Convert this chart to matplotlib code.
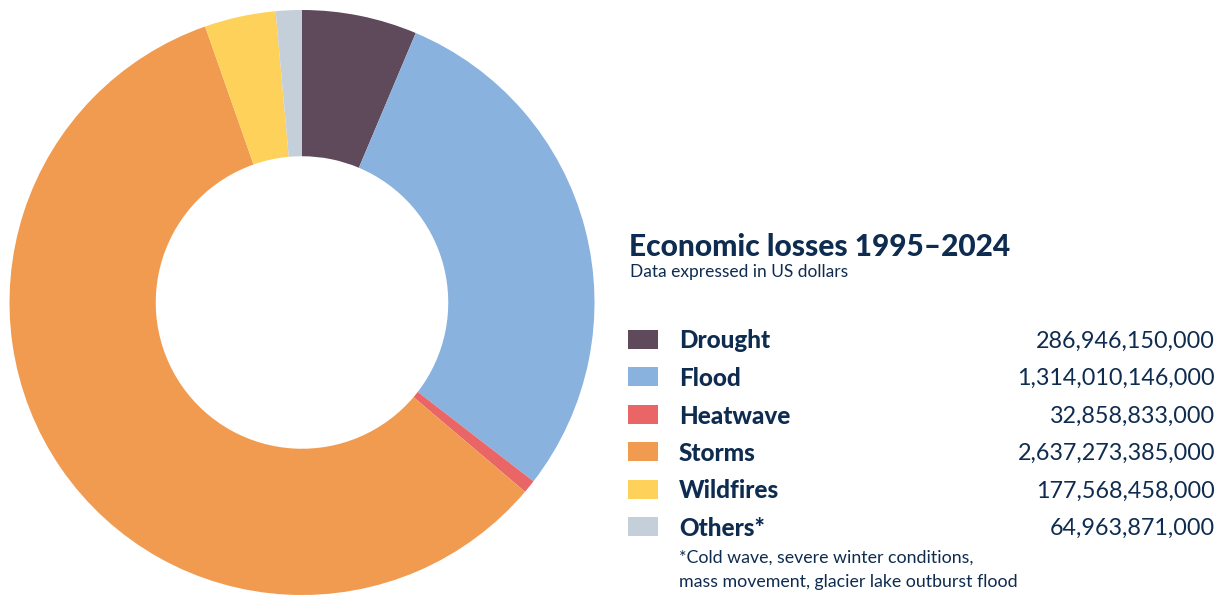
import matplotlib
matplotlib.use("Agg")
import matplotlib.pyplot as plt
from matplotlib.patches import Rectangle

# Economic losses by hazard type, 1995–2024 (US dollars)
categories = ["Drought", "Flood", "Heatwave", "Storms", "Wildfires", "Others*"]
losses = [286946150000, 1314010146000, 32858833000, 2637273385000,
          177568458000, 64963871000]
colors = ["#5E4A5B", "#8AB2DE", "#EA6566", "#F09B50", "#FED25A", "#C5CFDA"]

title = "Economic losses 1995–2024"
subtitle = "Data expressed in US dollars"
footnote = ["*Cold wave, severe winter conditions,",
            "mass movement, glacier lake outburst flood"]

W, H = 1222, 598
TEXT = "#0E2B50"
FONT = "Lato"

fig = plt.figure(figsize=(W / 100, H / 100), dpi=100)
fig.patch.set_facecolor("white")


def fx(px):
    return px / W


def fy(py):
    return 1 - py / H


# Donut chart
cx, cy, r = 302, 302.5, 292.5
ax = fig.add_axes([fx(cx - r), fy(cy + r), 2 * r / W, 2 * r / H])
ax.pie(losses, colors=colors, startangle=90, counterclock=False,
       radius=1.0, wedgeprops=dict(width=0.5, linewidth=0))
ax.set_xlim(-1, 1)
ax.set_ylim(-1, 1)
ax.set_aspect("equal")
ax.axis("off")

# Titles
fig.text(fx(629), fy(256), title, fontsize=21.5, fontweight=900,
         color=TEXT, family=FONT, ha="left", va="baseline")
fig.text(fx(630), fy(277), subtitle, fontsize=12.5, color=TEXT,
         family=FONT, ha="left", va="baseline")

# Legend rows with values
row0, step = 339, 37.5
for i, (name, val, col) in enumerate(zip(categories, losses, colors)):
    yc = row0 + i * step
    fig.patches.append(Rectangle((fx(628), fy(yc + 9.5)), 30 / W, 19 / H,
                                 transform=fig.transFigure, facecolor=col,
                                 edgecolor="none"))
    fig.text(fx(679), fy(yc), name, fontsize=17.5, fontweight=900,
             color=TEXT, family=FONT, ha="left", va="center_baseline")
    fig.text(fx(1215), fy(yc), f"{val:,}", fontsize=16.8, color=TEXT,
             family=FONT, ha="right", va="center_baseline")

for j, line in enumerate(footnote):
    fig.text(fx(679), fy(563 + j * 24), line, fontsize=12.8, color=TEXT,
             family=FONT, ha="left", va="baseline")

fig.savefig("out.png", dpi=100, facecolor="white")
